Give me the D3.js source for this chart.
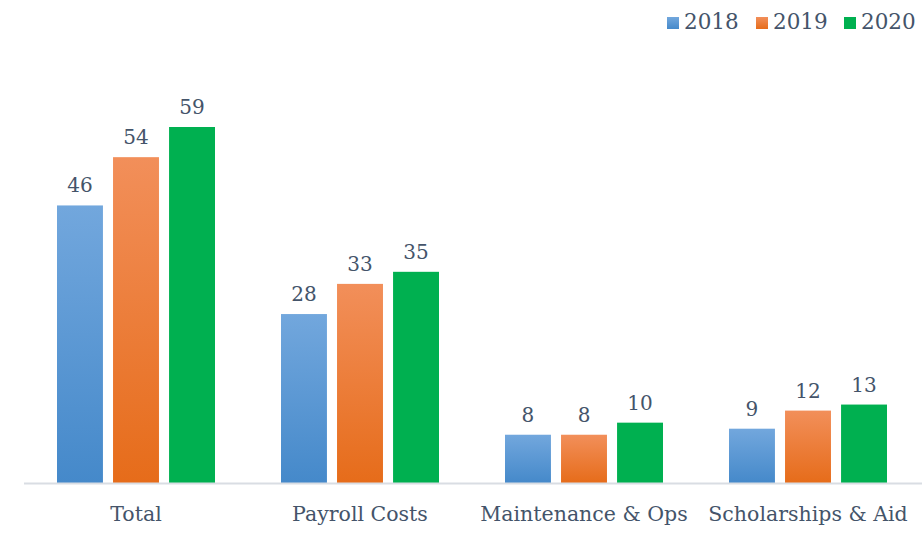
<!DOCTYPE html>
<html>
<head>
<meta charset="utf-8">
<script src="https://cdn.jsdelivr.net/npm/d3@7"></script>
<style>
  body { margin: 0; background: #fff; }
  svg { display: block; font-family: Georgia, "DejaVu Serif", serif; }
</style>
</head>
<body>
<svg id="chart" width="922" height="534"></svg>
<script>
'use strict';

// ---- Data -------------------------------------------------------------------

const categories = ['Total', 'Payroll Costs', 'Maintenance & Ops', 'Scholarships & Aid'];
const years = ['2018', '2019', '2020'];
const values2018 = [46, 28, 8, 9];
const values2019 = [54, 33, 8, 12];
const values2020 = [59, 35, 10, 13];

const series = [
  { key: '2018', values: values2018, top: '#72a7dd', bottom: '#4589ca' },
  { key: '2019', values: values2019, top: '#f28f5a', bottom: '#e66c1a' },
  { key: '2020', values: values2020, top: '#00b050', bottom: '#00b050' },
];

// ---- Setup ------------------------------------------------------------------

const svg = d3.select('#chart');
const TEXT = '#44546a';
const baseY = 483;

const x0 = d3.scaleBand().domain(categories).range([24, 920]).paddingInner(0).paddingOuter(0);
const x1 = d3.scaleBand().domain(years).range([33, 191]).paddingInner(0.18);
const y = d3.scaleLinear().domain([0, 59]).range([baseY, 127]);

// Gradients for the bars.
const defs = svg.append('defs');
series.forEach(s => {
  const g = defs.append('linearGradient')
    .attr('id', 'grad' + s.key)
    .attr('x1', 0).attr('y1', 0).attr('x2', 0).attr('y2', 1);
  g.append('stop').attr('offset', '0%').attr('stop-color', s.top);
  g.append('stop').attr('offset', '100%').attr('stop-color', s.bottom);
});

// ---- Bars -------------------------------------------------------------------

const groups = svg.selectAll('.group')
  .data(categories)
  .join('g')
  .attr('class', 'group')
  .attr('transform', d => `translate(${x0(d)},0)`);

series.forEach(s => {
  groups.append('rect')
    .attr('x', x1(s.key))
    .attr('width', x1.bandwidth())
    .attr('y', (d, i) => y(s.values[i]))
    .attr('height', (d, i) => baseY - y(s.values[i]))
    .attr('fill', `url(#grad${s.key})`);

  groups.append('text')
    .attr('x', x1(s.key) + x1.bandwidth() / 2)
    .attr('y', (d, i) => y(s.values[i]) - 13)
    .attr('text-anchor', 'middle')
    .attr('fill', TEXT)
    .attr('font-size', 20)
    .text((d, i) => s.values[i]);
});

// ---- Axis -------------------------------------------------------------------

svg.append('line')
  .attr('x1', 24).attr('x2', 922)
  .attr('y1', baseY + 0.5).attr('y2', baseY + 0.5)
  .attr('stroke', '#d9dde3').attr('stroke-width', 2);

svg.append('g').selectAll('text')
  .data(categories)
  .join('text')
  .attr('x', d => x0(d) + x0.bandwidth() / 2)
  .attr('y', 521)
  .attr('text-anchor', 'middle')
  .attr('fill', TEXT)
  .attr('font-size', 20.5)
  .text(d => d);

// ---- Legend -----------------------------------------------------------------

const legendX = [667, 756, 844];
const legend = svg.append('g').selectAll('g')
  .data(series)
  .join('g')
  .attr('transform', (d, i) => `translate(${legendX[i]},17)`);

legend.append('rect')
  .attr('width', 12).attr('height', 12)
  .attr('fill', d => `url(#grad${d.key})`);

legend.append('text')
  .attr('x', 17).attr('y', 12)
  .attr('fill', TEXT)
  .attr('font-size', 21.5)
  .text(d => d.key);
</script>
</body>
</html>
